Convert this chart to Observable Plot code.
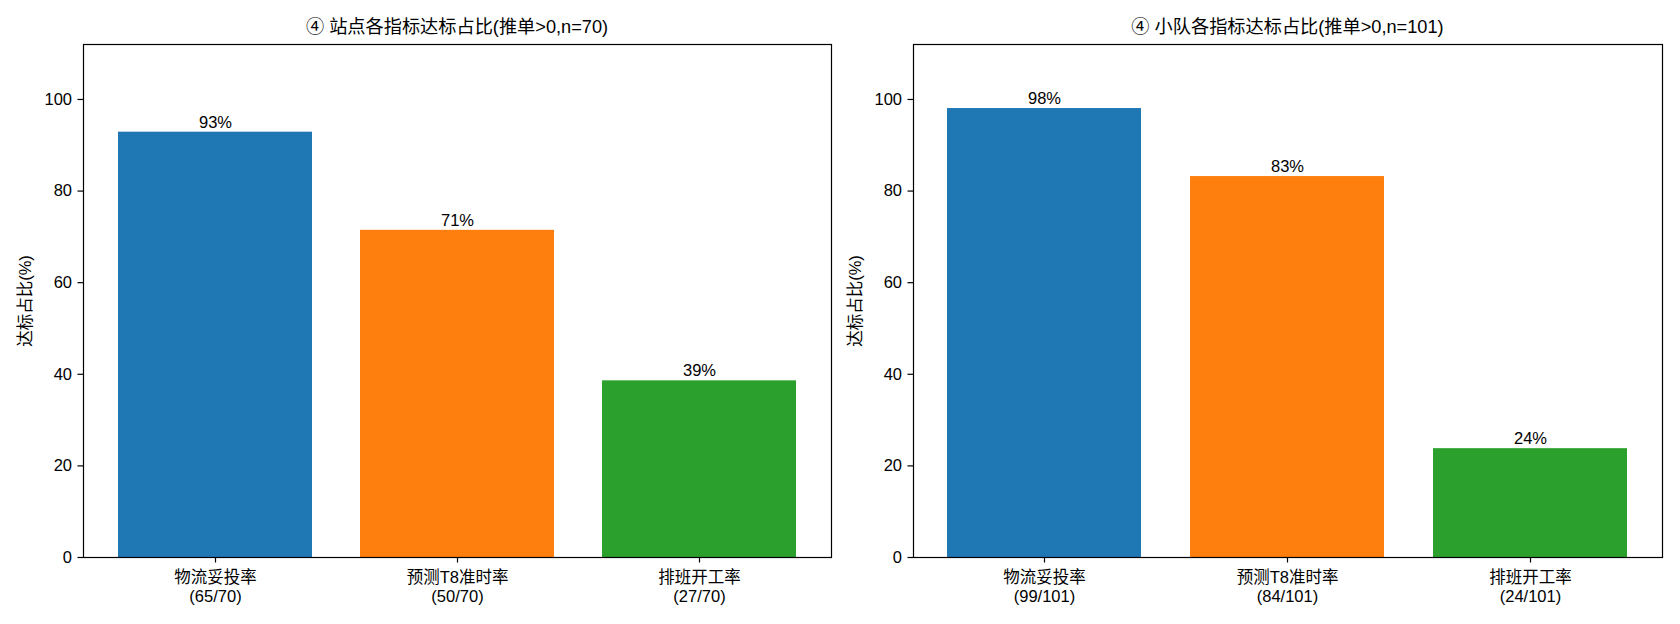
<!DOCTYPE html>
<html><head><meta charset="utf-8">
<script src="https://cdn.jsdelivr.net/npm/d3@7"></script>
<script src="https://cdn.jsdelivr.net/npm/@observablehq/plot@0.6"></script>
<style>
body{margin:0;background:#fff;}
#wrap{position:relative;width:1680px;height:624px;font-family:"Liberation Sans","Noto Sans CJK SC",sans-serif;}
.panel{position:absolute;top:0;width:840px;height:624px;}
.title{position:absolute;top:17px;font-size:18.2px;line-height:20px;transform:translateX(-50%);white-space:nowrap;color:#000;}
</style></head>
<body>
<div id="wrap">
  <div class="panel" id="p1" style="left:0px"></div>
  <div class="panel" id="p2" style="left:840px"></div>
</div>
<script>
const categories = ["物流妥投率", "预测T8准时率", "排班开工率"];
const colors = ["#1f77b4", "#ff7f0e", "#2ca02c"];
const siteCounts = [65, 50, 27];
const siteTotal = 70;
const teamCounts = [99, 84, 24];
const teamTotal = 101;
const yTicks = [0, 20, 40, 60, 80, 100];
const yMax = 112;
const yLabel = "达标占比(%)";
const siteTitle = "④ 站点各指标达标占比(推单>0,n=70)";
const teamTitle = "④ 小队各指标达标占比(推单>0,n=101)";

function panel(el, title, counts, total, ml, mr) {
  const data = categories.map((c, i) => ({cat: c, pct: counts[i] / total * 100}));
  const font = '"Liberation Sans", "Noto Sans CJK SC", sans-serif';
  const fs = 16.5;
  const chart = Plot.plot({
    width: 840, height: 624,
    marginTop: 44, marginBottom: 67, marginLeft: ml, marginRight: mr,
    style: {fontFamily: font, fontSize: fs + "px", color: "#000", background: "#fff"},
    x: {domain: categories, paddingInner: 0.2, paddingOuter: 0.14, label: null},
    y: {domain: [0, yMax], label: null},
    color: {domain: categories, range: colors},
    marks: [
      Plot.barY(data, {x: "cat", y: "pct", fill: "cat"}),
      Plot.text(data, {x: "cat", y: "pct", text: d => Math.round(d.pct) + "%", lineAnchor: "bottom", dy: -4.5, fontSize: fs, fill: "#000"}),
      Plot.axisY({ticks: yTicks, tickSize: 5.5, tickPadding: 6, fontSize: fs, label: null, strokeWidth: 1.2}),
      Plot.axisX({tickSize: 5.5, tickPadding: 6, fontSize: fs, label: null, lineHeight: 1.18, strokeWidth: 1.2,
        tickFormat: c => { const i = categories.indexOf(c); return `${c}\n(${counts[i]}/${total})`; }}),
      Plot.frame({stroke: "#000", strokeWidth: 1.2}),
      Plot.text([yLabel], {frameAnchor: "left", textAnchor: "middle", rotate: -90, dx: -58, text: d => d, fontSize: fs, fill: "#000"})
    ]
  });
  const host = document.getElementById(el);
  host.appendChild(chart);
  const t = document.createElement("div");
  t.className = "title";
  t.textContent = title;
  t.style.left = (ml + (840 - ml - mr) / 2) + "px";
  host.appendChild(t);
}
panel("p1", siteTitle, siteCounts, siteTotal, 83, 9);
panel("p2", teamTitle, teamCounts, teamTotal, 73, 18);
</script>
</body></html>
